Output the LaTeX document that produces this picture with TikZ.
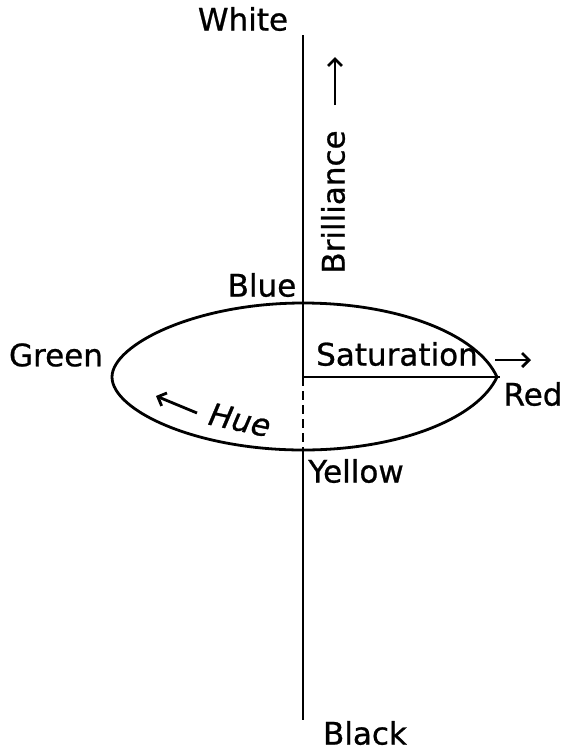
\documentclass[tikz,border=0pt]{standalone}
\usepackage{fontspec}
\setmainfont{DejaVu Sans}[FakeBold=0.8]
\usepackage{tikz}
\usetikzlibrary{arrows.meta,calc}

\begin{document}
\begin{tikzpicture}[x=1pt,y=-1pt,
  lbl/.style={draw=none,inner sep=0pt,font=\fontsize{31}{37}\selectfont},
  axis/.style={line width=2.8pt},
  tip/.style={line width=2.8pt,-{Straight Barb[length=7pt,width=14pt]}}]
\useasboundingbox (0,0) rectangle (567,753);
% points on the axis
\coordinate (top) at (303,35);
\coordinate (o) at (303,377);
\coordinate (rimb) at (303,450);
\coordinate (bot) at (303,720);
\coordinate (red) at (500,377);
% labels
\node (white) [lbl] at (243,19) {White};
\node (black) [lbl] at (365,733) {Black};
\node (blue) [lbl] at (262,285) {Blue};
\node (green) [lbl] at (56,355) {Green};
\node (redl) [lbl] at (533,394) {Red};
\node (yellow) [lbl] at (356,471) {Yellow};
\node (sat) [lbl] at (397,354) {Saturation};
\node (bri) [lbl,rotate=90] at (333,202) {Brilliance};
\node (hue) [lbl,rotate=-12,font=\fontsize{31}{37}\selectfont\itshape] at (240,420) {Hue};
% arrows beside the labels
\coordinate (b1) at (335,105);\coordinate (b2) at (335,57);
\coordinate (s1) at (495,360);\coordinate (s2) at (531,360);
\coordinate (h1) at (197,413);\coordinate (h2) at (156,396);
\draw [tip] (b1)--(b2);
\draw [tip] (s1)--(s2);
\draw [tip] (h1)--(h2);
% the hue circle
\draw [axis] (112,377) .. controls (112,345) and (195,303) .. (303,303)
  .. controls (400,303) and (478,335) .. (497,377)
  .. controls (478,418) and (400,450) .. (303,450)
  .. controls (195,450) and (112,410) .. (112,377);
\draw [axis] (top)--(o)--(red);
\draw [axis,dash pattern=on 9pt off 5pt] (o)--(rimb);
\draw [axis] (rimb)--(bot);
\end{tikzpicture}
\end{document}
